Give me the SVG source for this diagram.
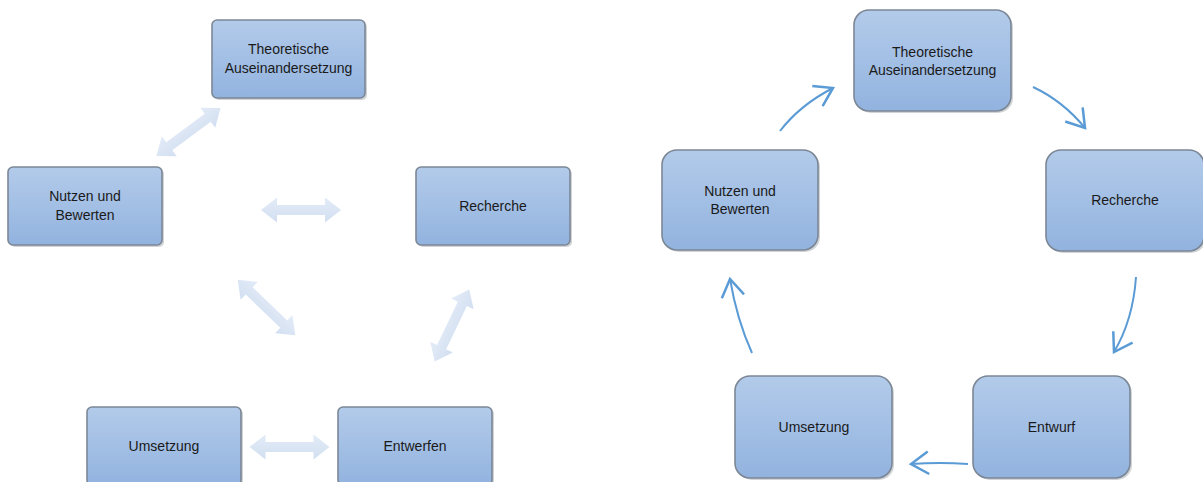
<svg xmlns="http://www.w3.org/2000/svg" xmlns:xlink="http://www.w3.org/1999/xlink" width="1203" height="482" viewBox="0 0 1203 482">
<style>
.box{fill:url(#boxg);stroke:#7c8796;stroke-width:1.6}
.shd{fill:#8d939b;opacity:0.4}
.t{font-family:"Liberation Sans",Arial,sans-serif;font-size:14px;fill:#1a1a1a;text-anchor:middle}
.t2{font-family:"Liberation Sans",Arial,sans-serif;font-size:14px;fill:#1a1a1a;text-anchor:middle}
.dbl{fill:url(#arrg)}
.cur{fill:none;stroke:#5b9bd5;stroke-width:2;marker-end:url(#head)}
</style>
<defs>
<linearGradient id="boxg" x1="0" y1="0" x2="0" y2="1">
<stop offset="0" stop-color="#b3cbea"/>
<stop offset="1" stop-color="#92b3df"/>
</linearGradient>
<linearGradient id="arrg" x1="0" y1="0" x2="0" y2="1">
<stop offset="0" stop-color="#e3ebf7"/>
<stop offset="1" stop-color="#d2dff1"/>
</linearGradient>
<path id="dbl" d="M-40,0 L-24,-12.5 L-24,-5 L24,-5 L24,-12.5 L40,0 L24,12.5 L24,5 L-24,5 L-24,12.5 Z"/>
<marker id="head" markerUnits="userSpaceOnUse" markerWidth="30" markerHeight="30" viewBox="-16 -12 20 24" refX="0" refY="0" orient="auto">
<path d="M-14,-9 L0,0 L-14,9" fill="none" stroke="#5b9bd5" stroke-width="2"/>
</marker>
</defs>
<rect width="1203" height="482" fill="#ffffff"/>

<g id="connectors">
<use xlink:href="#dbl" class="dbl" transform="translate(188.5,132) rotate(-36.7)"/>
<use xlink:href="#dbl" class="dbl" transform="translate(301,210)"/>
<use xlink:href="#dbl" class="dbl" transform="translate(266.5,307.5) rotate(44)"/>
<use xlink:href="#dbl" class="dbl" transform="translate(452,325.5) rotate(-64.4)"/>
<use xlink:href="#dbl" class="dbl" transform="translate(289.5,447)"/>
<path class="cur" d="M780,131 Q800,105 833,88"/>
<path class="cur" d="M1033,87 Q1063,101 1085,128"/>
<path class="cur" d="M1136,277 Q1133,320 1114,352"/>
<path class="cur" d="M968,464 Q940,462 911,464"/>
<path class="cur" d="M752,353 Q737,320 730,279"/>
</g>

<g id="l-theoretische">
<rect class="shd" x="214" y="22" width="153" height="78" rx="5"/>
<rect class="box" x="212" y="20" width="153" height="78" rx="5"/>
<text class="t" x="288.5" y="54">Theoretische</text>
<text class="t" x="288.5" y="73">Auseinandersetzung</text>
</g>
<g id="l-nutzen">
<rect class="shd" x="10" y="169" width="154" height="78" rx="5"/>
<rect class="box" x="8" y="167" width="154" height="78" rx="5"/>
<text class="t" x="85" y="201">Nutzen und</text>
<text class="t" x="85" y="220">Bewerten</text>
</g>
<g id="l-recherche">
<rect class="shd" x="418" y="169" width="154" height="78" rx="5"/>
<rect class="box" x="416" y="167" width="154" height="78" rx="5"/>
<text class="t" x="493" y="211">Recherche</text>
</g>
<g id="l-umsetzung">
<rect class="shd" x="89" y="409" width="154" height="78" rx="5"/>
<rect class="box" x="87" y="407" width="154" height="78" rx="5"/>
<text class="t" x="164" y="451">Umsetzung</text>
</g>
<g id="l-entwerfen">
<rect class="shd" x="340" y="409" width="154" height="78" rx="5"/>
<rect class="box" x="338" y="407" width="154" height="78" rx="5"/>
<text class="t" x="415" y="451">Entwerfen</text>
</g>

<g id="r-theoretische">
<rect class="shd" x="856" y="12" width="157" height="101" rx="15"/>
<rect class="box" x="854" y="10" width="157" height="101" rx="15"/>
<text class="t2" x="932.5" y="57">Theoretische</text>
<text class="t2" x="932.5" y="75">Auseinandersetzung</text>
</g>
<g id="r-nutzen">
<rect class="shd" x="664" y="152" width="156" height="100" rx="15"/>
<rect class="box" x="662" y="150" width="156" height="100" rx="15"/>
<text class="t2" x="740" y="196">Nutzen und</text>
<text class="t2" x="740" y="214">Bewerten</text>
</g>
<g id="r-recherche">
<rect class="shd" x="1048" y="152" width="158" height="101" rx="15"/>
<rect class="box" x="1046" y="150" width="158" height="101" rx="15"/>
<text class="t2" x="1125" y="205">Recherche</text>
</g>
<g id="r-umsetzung">
<rect class="shd" x="737" y="378" width="157" height="102" rx="15"/>
<rect class="box" x="735" y="376" width="157" height="102" rx="15"/>
<text class="t2" x="814" y="432">Umsetzung</text>
</g>
<g id="r-entwurf">
<rect class="shd" x="975" y="378" width="157" height="102" rx="15"/>
<rect class="box" x="973" y="376" width="157" height="102" rx="15"/>
<text class="t2" x="1051.5" y="432">Entwurf</text>
</g>
</svg>
